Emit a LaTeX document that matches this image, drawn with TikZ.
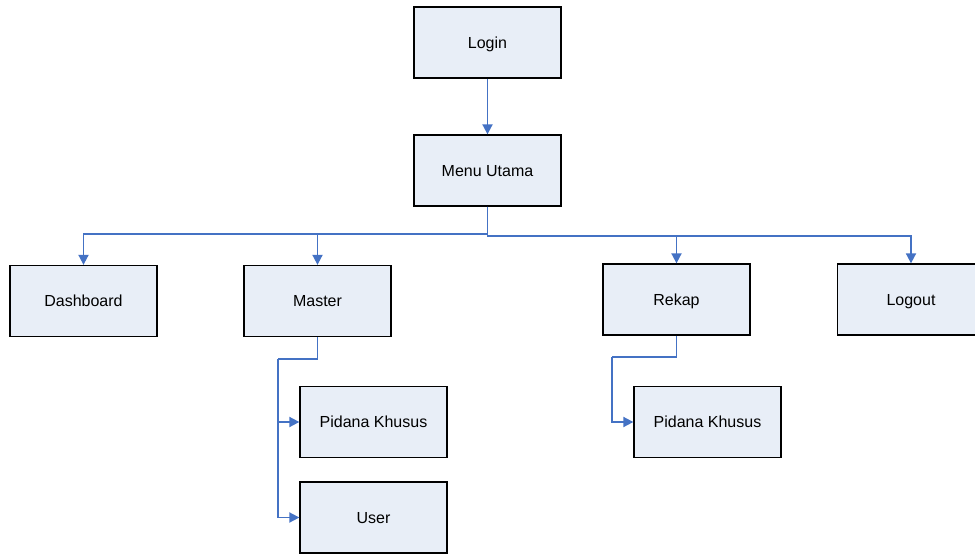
\documentclass[tikz,border=0pt]{standalone}
\usepackage{fontspec}
\setmainfont{Liberation Sans}
\usepackage{xcolor}
\usetikzlibrary{arrows.meta,calc,positioning}
\definecolor{boxfill}{RGB}{232,238,247}
\definecolor{linkblue}{RGB}{68,114,196}
\tikzset{
  menubox/.style={draw=black, fill=boxfill, line width=1.3pt, minimum width=147pt,
    minimum height=71pt, inner sep=0pt, text height=11.5pt, text depth=0pt,
    font=\fontsize{16}{19}\selectfont},
  conn/.style={draw=linkblue, line width=1.8pt, -{Triangle[length=10pt,width=10pt]}},
  bus/.style={draw=linkblue, line width=1.8pt}
}
\newcommand{\MenuBox}[4]{\node[menubox] (#1) at (#2,#3) {#4};}% #1=name, #2=x, #3=y, #4=text
\begin{document}
\begin{tikzpicture}[x=1pt,y=-1pt]
  \useasboundingbox (0,0) rectangle (975,554);
  % Top of the tree
  \MenuBox{login}{487.5}{42.5}{Login}
  \MenuBox{menu}{487.5}{170.5}{Menu Utama}

  % Main menu items
  \MenuBox{dash}{83.5}{301}{Dashboard}
  \MenuBox{master}{317.5}{301}{Master}
  \MenuBox{rekap}{676.5}{299.5}{Rekap}
  \MenuBox{logout}{911}{299.5}{Logout}

  % Sub items
  \MenuBox{pkmaster}{373.5}{422}{Pidana Khusus}
  \MenuBox{user}{373.5}{517.5}{User}
  \MenuBox{pkrekap}{707.5}{422}{Pidana Khusus}

  % --- Connectors ---
  \draw[conn] (login.south) -- (menu.north);
  \draw[conn] (menu.south) -- ++(0,27.5) -| (dash.north);
  \draw[conn] (menu.south) -- ++(0,27.5) -| (master.north);
  \draw[conn] (menu.south) -- ++(0,29.5) -| (rekap.north);
  \draw[conn] (menu.south) -- ++(0,29.5) -| (logout.north);

  % Master branch
  \coordinate (mbus) at (278,359);
  \draw[bus] (master.south) |- (mbus);
  \draw[conn] (mbus) |- (pkmaster.west);
  \draw[conn] (mbus) |- (user.west);

  % Rekap branch
  \coordinate (rbus) at (612,357);
  \draw[bus] (rekap.south) |- (rbus);
  \draw[conn] (rbus) |- (pkrekap.west);
\end{tikzpicture}
\end{document}
